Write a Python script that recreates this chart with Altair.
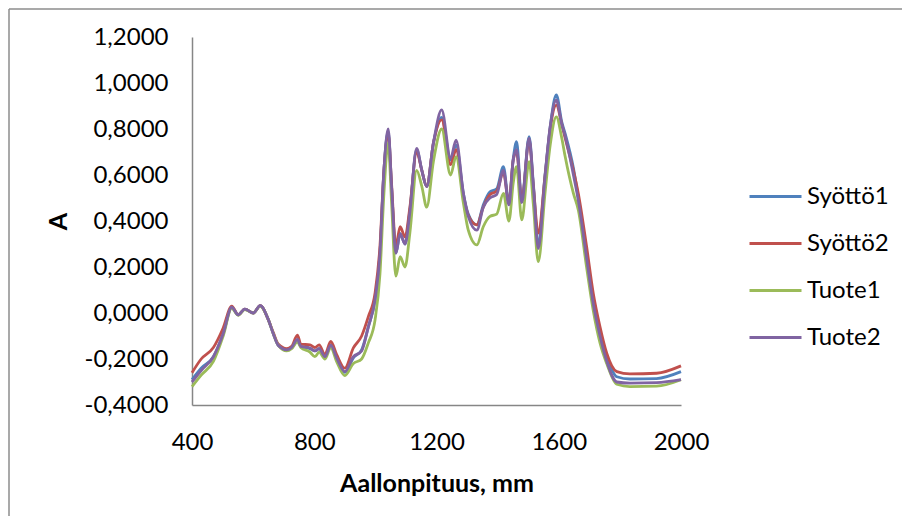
import altair as alt
import pandas as pd

wavelength = [400, 430, 470, 502, 530, 551, 573, 601, 623, 650, 666, 682, 710, 726, 745, 756,
              786, 802, 816, 835, 854, 873, 900, 928, 955, 977, 999, 1015, 1028, 1042, 1053,
              1067, 1081, 1097, 1113, 1135, 1152, 1168, 1190, 1217, 1246, 1264, 1288, 1304,
              1332, 1353, 1375, 1397, 1419, 1437, 1451, 1462, 1479, 1503, 1517, 1533, 1555,
              1572, 1592, 1610, 1621, 1648, 1664, 1691, 1713, 1735, 1757, 1790, 1833, 1920, 2000]

syotto1 = [-0.29, -0.24, -0.19, -0.09, 0.025, -0.008, 0.017, 0.0, 0.032, -0.03, -0.09, -0.14,
           -0.16, -0.152, -0.12, -0.145, -0.155, -0.165, -0.155, -0.19, -0.14, -0.19, -0.258,
           -0.195, -0.16, -0.06, 0.06, 0.26, 0.62, 0.79, 0.55, 0.26, 0.345, 0.30, 0.45, 0.71,
           0.62, 0.55, 0.74, 0.85, 0.665, 0.73, 0.52, 0.43, 0.383, 0.47, 0.527, 0.54, 0.636,
           0.48, 0.67, 0.745, 0.49, 0.767, 0.56, 0.30, 0.60, 0.81, 0.948, 0.83, 0.78, 0.63,
           0.50, 0.25, 0.05, -0.09, -0.19, -0.277, -0.287, -0.285, -0.255]

syotto2 = [-0.26, -0.20, -0.15, -0.065, 0.03, -0.008, 0.017, 0.0, 0.032, -0.03, -0.085, -0.135,
           -0.155, -0.145, -0.096, -0.135, -0.139, -0.15, -0.139, -0.18, -0.124, -0.18, -0.24,
           -0.152, -0.10, -0.016, 0.087, 0.29, 0.62, 0.78, 0.56, 0.29, 0.375, 0.33, 0.46, 0.70,
           0.62, 0.55, 0.74, 0.84, 0.645, 0.71, 0.51, 0.425, 0.383, 0.46, 0.515, 0.53, 0.61,
           0.477, 0.665, 0.70, 0.49, 0.75, 0.55, 0.347, 0.593, 0.80, 0.904, 0.82, 0.76, 0.62,
           0.52, 0.29, 0.085, -0.06, -0.175, -0.255, -0.265, -0.262, -0.23]

tuote1 = [-0.32, -0.27, -0.21, -0.10, 0.02, -0.01, 0.015, 0.0, 0.03, -0.03, -0.09, -0.14,
          -0.165, -0.155, -0.125, -0.15, -0.17, -0.19, -0.17, -0.20, -0.15, -0.21, -0.272,
          -0.22, -0.20, -0.13, -0.03, 0.17, 0.52, 0.74, 0.48, 0.16, 0.245, 0.20, 0.35, 0.62,
          0.55, 0.46, 0.66, 0.80, 0.60, 0.68, 0.478, 0.36, 0.296, 0.375, 0.42, 0.43, 0.52,
          0.40, 0.565, 0.636, 0.405, 0.658, 0.47, 0.223, 0.52, 0.73, 0.853, 0.76, 0.68, 0.52,
          0.448, 0.20, 0.01, -0.13, -0.22, -0.31, -0.32, -0.318, -0.29]

tuote2 = [-0.30, -0.25, -0.19, -0.09, 0.025, -0.008, 0.017, 0.0, 0.032, -0.03, -0.09, -0.14,
          -0.16, -0.15, -0.115, -0.145, -0.152, -0.165, -0.155, -0.19, -0.14, -0.195, -0.255,
          -0.19, -0.165, -0.06, 0.06, 0.26, 0.62, 0.80, 0.55, 0.26, 0.345, 0.30, 0.44, 0.716,
          0.62, 0.55, 0.74, 0.883, 0.672, 0.752, 0.52, 0.42, 0.36, 0.46, 0.50, 0.515, 0.62,
          0.47, 0.665, 0.71, 0.48, 0.76, 0.55, 0.28, 0.59, 0.81, 0.925, 0.82, 0.77, 0.60,
          0.49, 0.24, 0.04, -0.10, -0.21, -0.30, -0.305, -0.303, -0.29]

series_names = ["Syöttö1", "Syöttö2", "Tuote1", "Tuote2"]
series_colors = ["#4F81BD", "#C0504D", "#9BBB59", "#8064A2"]
y_ticks = [-0.4, -0.2, 0.0, 0.2, 0.4, 0.6, 0.8, 1.0, 1.2]
x_ticks = [400, 800, 1200, 1600, 2000]

rows = []
for name, vals in zip(series_names, [syotto1, syotto2, tuote1, tuote2]):
    for x, y in zip(wavelength, vals):
        rows.append({"Aallonpituus": x, "A": y, "Sarja": name})
df = pd.DataFrame(rows)

FONT = "Lato"
W, H = 489, 368
PL, PT, PR, PB = 184, 29, 221, 111

lines = alt.Chart(df).mark_line(strokeWidth=2.8, interpolate="monotone").encode(
    x=alt.X("Aallonpituus:Q",
            scale=alt.Scale(domain=[400, 2000], nice=False, zero=False),
            axis=alt.Axis(values=x_ticks, title="Aallonpituus, mm", grid=False, ticks=False,
                          labelPadding=25, titlePadding=17, format="d")),
    y=alt.Y("A:Q",
            scale=alt.Scale(domain=[-0.4, 1.2], nice=False, zero=False),
            axis=alt.Axis(values=y_ticks, title="A", grid=False, ticks=False,
                          labelPadding=24, titlePadding=13,
                          labelExpr="(datum.value < -0.00001 ? '-' : '') + replace(format(abs(datum.value), '.4f'), '.', ',')")),
    color=alt.Color("Sarja:N",
                    scale=alt.Scale(domain=series_names, range=series_colors),
                    legend=alt.Legend(title=None, orient="none", legendX=556, legendY=132,
                                      symbolType="stroke", symbolSize=2704, symbolStrokeWidth=2.8,
                                      labelOffset=4, rowPadding=7, padding=0,
                                      labelFontSize=24, labelFont=FONT, labelColor="#000000")),
)

frame_left = alt.Chart().mark_rule(color="#8c8c8c", strokeWidth=1.5).encode(
    x=alt.value(-183), y=alt.value(-28), y2=alt.value(H + PB))
frame_top = alt.Chart().mark_rule(color="#8c8c8c", strokeWidth=1.5).encode(
    x=alt.value(-183), x2=alt.value(W + PR), y=alt.value(-28))

chart = alt.layer(lines, frame_left, frame_top).properties(
    width=W, height=H,
    padding={"left": PL, "top": PT, "right": PR, "bottom": PB},
    autosize=alt.AutoSizeParams(type="none"),
    background="white",
).configure_view(stroke=None).configure_axis(
    domainColor="#868686", domainWidth=1.5,
    labelFont=FONT, labelFontSize=24, labelColor="#000000",
    titleFont=FONT, titleFontSize=25, titleFontWeight="bold", titleColor="#000000",
    labelFlush=False, labelOverlap=False,
)

chart.save("out.html", embed_options={"renderer": "svg", "actions": False})
